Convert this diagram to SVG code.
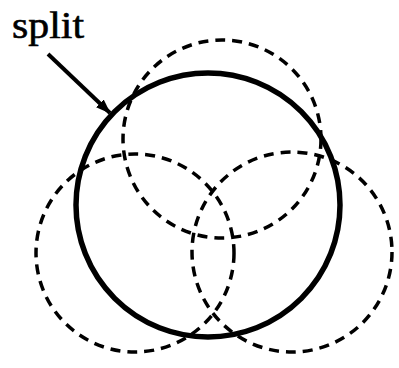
<svg xmlns="http://www.w3.org/2000/svg" width="399" height="368" viewBox="0 0 399 368">
<style>
.dash{fill:none;stroke:#000;stroke-width:3.5;stroke-dasharray:10 7}
.solid{fill:none;stroke:#000;stroke-width:5.5}
.lbl{font-family:"Liberation Serif","Times New Roman",serif;font-size:38px;fill:#000;stroke:#000;stroke-width:0.6}
</style>
<defs>
<marker id="ah" markerWidth="15" markerHeight="11" refX="14" refY="5.5" orient="auto" markerUnits="userSpaceOnUse" viewBox="0 0 15 11">
<path d="M0,0 L15,5.5 L0,11 Z" fill="#000"/>
</marker>
</defs>
<rect width="399" height="368" fill="#fff"/>
<g id="dashed-top"><circle class="dash" cx="222" cy="139" r="99"/></g>
<g id="dashed-left"><circle class="dash" cx="135" cy="253" r="99"/></g>
<g id="dashed-right"><circle class="dash" cx="292" cy="252" r="100"/></g>
<g id="solid"><circle class="solid" cx="208" cy="205" r="132"/></g>
<g id="label"><text class="lbl" x="12" y="38" textLength="72" lengthAdjust="spacingAndGlyphs">split</text></g>
<g id="connectors">
<line x1="48" y1="54" x2="110" y2="113" stroke="#000" stroke-width="4" marker-end="url(#ah)"/>
</g>
</svg>
